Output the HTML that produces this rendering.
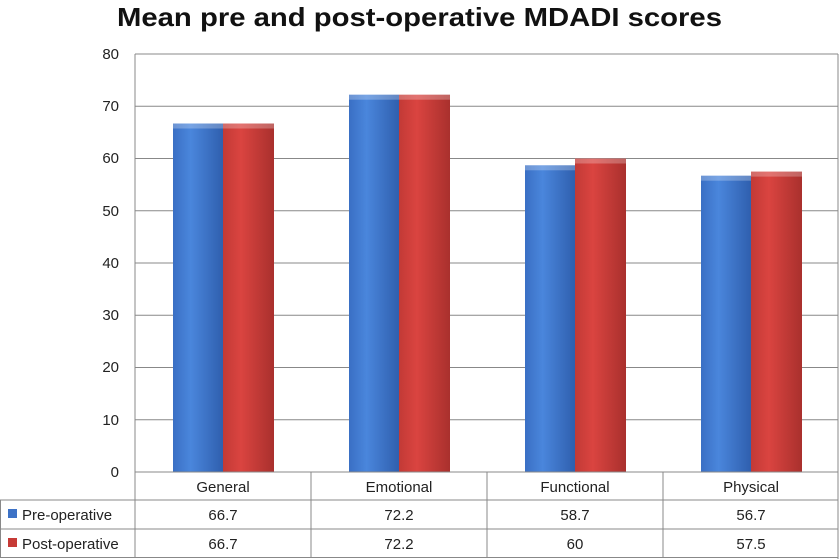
<!DOCTYPE html>
<html><head><meta charset="utf-8"><style>body{margin:0;background:#fff}svg{display:block}</style></head><body>
<svg width="840" height="559" xmlns="http://www.w3.org/2000/svg" font-family="Liberation Sans, DejaVu Sans, sans-serif">
<defs>
<linearGradient id="b" x1="0" x2="1"><stop offset="0" stop-color="#3a6fc4"/><stop offset="0.35" stop-color="#4a86dc"/><stop offset="1" stop-color="#2f5fae"/></linearGradient>
<linearGradient id="r" x1="0" x2="1"><stop offset="0" stop-color="#c23a36"/><stop offset="0.35" stop-color="#da4440"/><stop offset="1" stop-color="#a9302d"/></linearGradient>
</defs>
<text x="117" y="26" font-size="26" font-weight="bold" fill="#111" textLength="605" lengthAdjust="spacingAndGlyphs">Mean pre and post-operative MDADI scores</text>
<g stroke="#888" stroke-width="1">
<line x1="135" y1="54" x2="838" y2="54"/><line x1="135" y1="106.3" x2="838" y2="106.3"/><line x1="135" y1="158.5" x2="838" y2="158.5"/><line x1="135" y1="210.8" x2="838" y2="210.8"/><line x1="135" y1="263" x2="838" y2="263"/><line x1="135" y1="315.3" x2="838" y2="315.3"/><line x1="135" y1="367.5" x2="838" y2="367.5"/><line x1="135" y1="419.8" x2="838" y2="419.8"/>
<line x1="135" y1="54" x2="135" y2="472"/><line x1="838" y1="54" x2="838" y2="559"/>
</g>
<g font-size="15" fill="#222" text-anchor="end">
<text x="119" y="59">80</text><text x="119" y="111">70</text><text x="119" y="163">60</text><text x="119" y="216">50</text><text x="119" y="268">40</text><text x="119" y="320">30</text><text x="119" y="372">20</text><text x="119" y="425">10</text><text x="119" y="477">0</text>
</g>
<g>
<rect x="173" y="123.5" width="50" height="348.5" fill="url(#b)"/><rect x="223" y="123.5" width="51" height="348.5" fill="url(#r)"/>
<rect x="349" y="94.7" width="50" height="377.3" fill="url(#b)"/><rect x="399" y="94.7" width="51" height="377.3" fill="url(#r)"/>
<rect x="525" y="165.3" width="50" height="306.7" fill="url(#b)"/><rect x="575" y="158.5" width="51" height="313.5" fill="url(#r)"/>
<rect x="701" y="175.7" width="50" height="296.3" fill="url(#b)"/><rect x="751" y="171.6" width="51" height="300.4" fill="url(#r)"/>
</g>
<g fill="#fff" opacity="0.25">
<rect x="173" y="123.5" width="50" height="5"/><rect x="223" y="123.5" width="51" height="5"/>
<rect x="349" y="94.7" width="50" height="5"/><rect x="399" y="94.7" width="51" height="5"/>
<rect x="525" y="165.3" width="50" height="5"/><rect x="575" y="158.5" width="51" height="5"/>
<rect x="701" y="175.7" width="50" height="5"/><rect x="751" y="171.6" width="51" height="5"/>
</g>
<g stroke="#888" stroke-width="1">
<line x1="135" y1="472" x2="838" y2="472"/><line x1="0" y1="500" x2="838" y2="500"/><line x1="0" y1="529" x2="838" y2="529"/><line x1="0" y1="557.5" x2="838" y2="557.5"/>
<line x1="0.5" y1="500" x2="0.5" y2="558"/><line x1="135" y1="472" x2="135" y2="558"/><line x1="311" y1="472" x2="311" y2="558"/><line x1="487" y1="472" x2="487" y2="558"/><line x1="663" y1="472" x2="663" y2="558"/>
</g>
<g font-size="15" fill="#222" text-anchor="middle">
<text x="223" y="492">General</text><text x="399" y="492">Emotional</text><text x="575" y="492">Functional</text><text x="751" y="492">Physical</text>
<text x="223" y="520">66.7</text><text x="399" y="520">72.2</text><text x="575" y="520">58.7</text><text x="751" y="520">56.7</text>
<text x="223" y="549">66.7</text><text x="399" y="549">72.2</text><text x="575" y="549">60</text><text x="751" y="549">57.5</text>
</g>
<rect x="8" y="509" width="9" height="9" fill="#3d72c6"/><rect x="8" y="538" width="9" height="9" fill="#c63a36"/>
<g font-size="15" fill="#222"><text x="22" y="520">Pre-operative</text><text x="22" y="549">Post-operative</text></g>
</svg>
</body></html>
